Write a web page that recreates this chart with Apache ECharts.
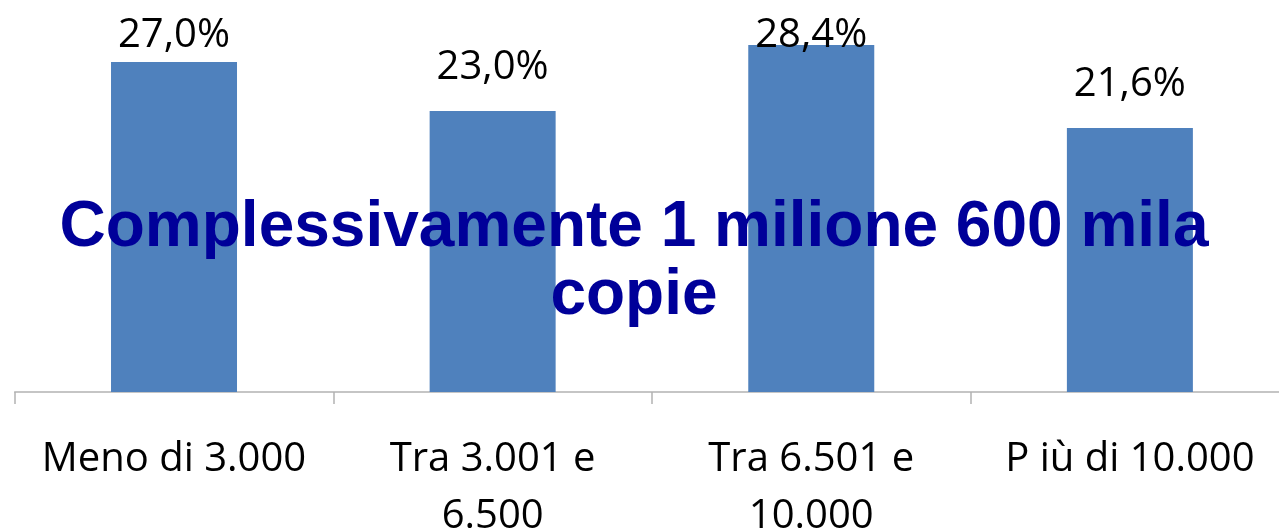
<!DOCTYPE html>
<html>
<head>
<meta charset="utf-8">
<script src="https://cdn.jsdelivr.net/npm/echarts@6/dist/echarts.min.js"></script>
<style>
html,body{margin:0;padding:0;background:#fff;}
#chart{width:1279px;height:529px;}
</style>
</head>
<body>
<div id="chart"></div>
<script>
var categories = ['Meno di 3.000', 'Tra 3.001 e\n6.500', 'Tra 6.501 e\n10.000', 'P iù di 10.000'];
var values = [27.0, 23.0, 28.4, 21.6];
var labelTexts = ['27,0%', '23,0%', '28,4%', '21,6%'];
var titleLines = ['Complessivamente 1 milione 600 mila', 'copie'];
// label vertical nudges (as in the original manually-placed labels)
var labelNudge = [17, 0, 34, 0];

var chart = echarts.init(document.getElementById('chart'));
var seriesData = values.map(function (v, i) {
  return {
    value: v,
    label: { offset: [0, labelNudge[i]] }
  };
});
chart.setOption({
  animation: false,
  grid: { left: 14.7, top: 25.4, width: 1274.5, bottom: 137, containLabel: false, outerBoundsMode: 'none' },
  xAxis: {
    type: 'category',
    data: categories,
    axisLine: { show: true, lineStyle: { color: '#b3b3b3', width: 1.5 } },
    axisTick: { show: true, length: 12, lineStyle: { color: '#b3b3b3', width: 1.5 } },
    axisLabel: {
      interval: 0,
      margin: 39,
      fontFamily: 'Open Sans',
      fontSize: 40,
      lineHeight: 57,
      color: '#000'
    }
  },
  yAxis: {
    type: 'value',
    min: 0,
    max: 30,
    show: false,
    splitLine: { show: false }
  },
  series: [{
    type: 'bar',
    data: seriesData,
    barWidth: 126,
    itemStyle: { color: '#4F81BD' },
    label: {
      show: true,
      position: 'top',
      distance: 23,
      fontFamily: 'Open Sans',
      fontSize: 40,
      lineHeight: 40,
      color: '#000',
      formatter: function (p) { return labelTexts[p.dataIndex]; }
    }
  }],
  graphic: [{
    type: 'text',
    z: 100,
    x: 634,
    y: 194,
    style: {
      text: titleLines.join('\n'),
      align: 'center',
      verticalAlign: 'top',
      fontFamily: 'Liberation Sans',
      fontWeight: 'bold',
      fontSize: 64,
      lineHeight: 68,
      fill: '#000099'
    }
  }]
});
</script>
</body>
</html>
